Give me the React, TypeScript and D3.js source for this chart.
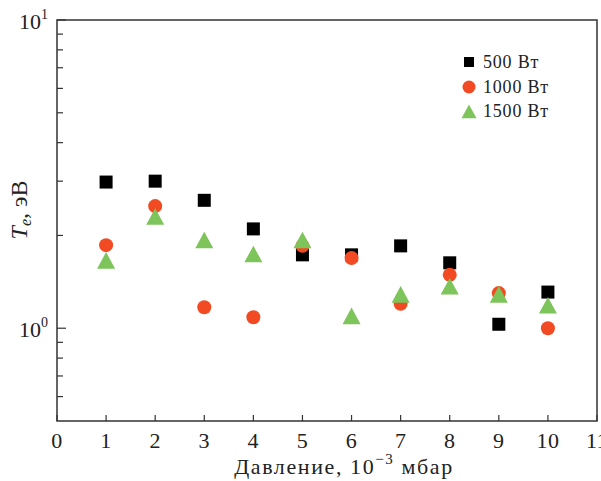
import React from "react";
import * as d3 from "d3";

const pressures = [1, 2, 3, 4, 5, 6, 7, 8, 9, 10];
const te500 = [2.98, 3.0, 2.6, 2.1, 1.73, 1.73, 1.85, 1.63, 1.03, 1.31];
const te1000 = [1.86, 2.49, 1.17, 1.085, 1.85, 1.69, 1.2, 1.49, 1.3, 1.0];
const te1500 = [1.65, 2.29, 1.92, 1.73, 1.92, 1.09, 1.28, 1.36, 1.28, 1.18];
const xTicks = [0, 1, 2, 3, 4, 5, 6, 7, 8, 9, 10, 11];
const yMinor = [0.6, 0.7, 0.8, 0.9, 2, 3, 4, 5, 6, 7, 8, 9];
const yMajor = [1, 10];
const legendLabels = ["500 Вт", "1000 Вт", "1500 Вт"];

const W = 601, H = 481;
const left = 57, right = 597, top = 20, bottom = 421;
const font = "'Liberation Serif', 'DejaVu Serif', serif";
const cRed = "#F24A22";
const cGreen = "#7DC45A";

export default function App() {
  const x = d3.scaleLinear().domain([0, 11]).range([left, right]);
  const y = d3.scaleLog().domain([0.5, 10]).range([bottom, top]);
  const tri = (cx: number, cy: number, s: number) => {
    const h = s * 0.92;
    return `M${cx},${cy - h * 0.55}L${cx + s / 2},${cy + h * 0.45}L${cx - s / 2},${cy + h * 0.45}Z`;
  };
  return (
    <svg width={W} height={H} style={{ position: "absolute", left: 0, top: 0, background: "#fff" }} fontFamily={font}>
      <rect x={0} y={0} width={W} height={H} fill="#fff" />
      {/* frame */}
      <rect x={left} y={top} width={right - left} height={bottom - top} fill="none" stroke="#333" strokeWidth={1.5} />
      {/* x ticks */}
      {xTicks.map((t) => (
        <g key={"xt" + t}>
          <line x1={x(t)} x2={x(t)} y1={bottom} y2={bottom - 6} stroke="#333" strokeWidth={1.2} />
          <text x={x(t)} y={448} fontSize={22} textAnchor="middle" fill="#222" letterSpacing={0.5}>{t}</text>
        </g>
      ))}
      {/* y ticks */}
      {yMinor.map((t) => (
        <line key={"ym" + t} x1={left} x2={left + 6} y1={y(t)} y2={y(t)} stroke="#333" strokeWidth={1.2} />
      ))}
      {yMajor.map((t) => (
        <g key={"yM" + t}>
          <line x1={left} x2={left + 9} y1={y(t)} y2={y(t)} stroke="#333" strokeWidth={1.2} />
          <text x={48} y={y(t) + 9} fontSize={22} textAnchor="end" fill="#222">
            10<tspan fontSize={14} dy={-10}>{Math.round(Math.log10(t))}</tspan>
          </text>
        </g>
      ))}
      {/* axis titles */}
      <text x={344} y={474} fontSize={22} textAnchor="middle" fill="#222" letterSpacing={1.6}>
        Давление, 10<tspan fontSize={15} dy={-10}>−3</tspan><tspan dy={10}> мбар</tspan>
      </text>
      <text transform="translate(27,210) rotate(-90)" fontSize={24} textAnchor="middle" fill="#222">
        <tspan fontStyle="italic">T</tspan><tspan fontStyle="italic" fontSize={16} dy={4}>e</tspan><tspan dy={-4}>, эВ</tspan>
      </text>
      {/* data */}
      {pressures.map((p, i) => (
        <rect key={"s" + i} x={x(p) - 6.5} y={y(te500[i]) - 6.5} width={13} height={13} fill="#000" />
      ))}
      {pressures.map((p, i) => (
        <circle key={"c" + i} cx={x(p)} cy={y(te1000[i])} r={7} fill={cRed} />
      ))}
      {pressures.map((p, i) => (
        <path key={"t" + i} d={tri(x(p), y(te1500[i]), 18)} fill={cGreen} />
      ))}
      {/* legend */}
      <rect x={464} y={57} width={10} height={10} fill="#000" />
      <circle cx={469} cy={87} r={6.5} fill={cRed} />
      <path d={tri(469, 112, 15)} fill={cGreen} />
      {legendLabels.map((l, i) => (
        <text key={l} x={483} y={68 + i * 24.5} fontSize={18} fill="#222" letterSpacing={0.8}>{l}</text>
      ))}
    </svg>
  );
}
